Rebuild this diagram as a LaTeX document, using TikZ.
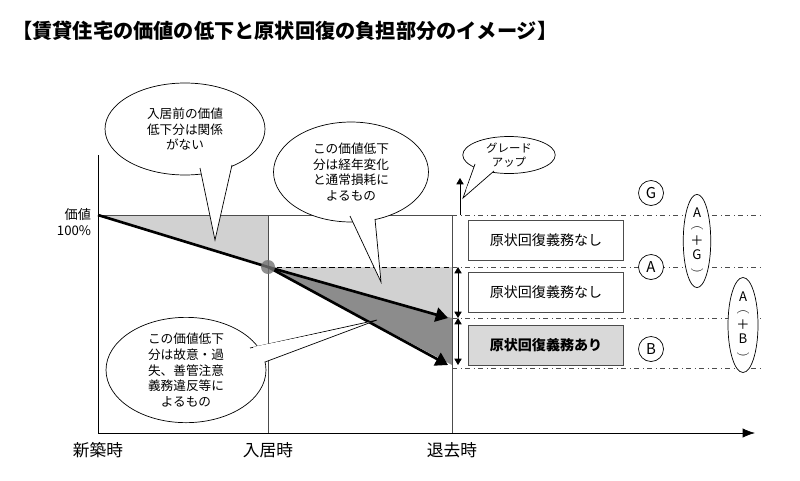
\documentclass[tikz,border=0pt]{standalone}
\usepackage{fontspec}
\setmainfont{Noto Sans CJK JP}
\usetikzlibrary{calc, positioning, arrows.meta, shapes.geometric}
\tikzset{
    bubble/.style={ellipse, draw=black, fill=white, align=center, font=\fontsize{7.2}{9}\selectfont, inner sep=0pt},
    duty/.style={rectangle, draw=black!70, fill=white, align=center, minimum width=3.1cm, minimum height=0.8cm, font=\fontsize{8}{10}\selectfont},
    letter/.style={circle, draw=black, fill=white, minimum size=0.5cm, inner sep=0pt, font=\fontsize{8.5}{10}\selectfont},
    sum/.style={ellipse, draw=black, fill=white, align=center, inner sep=0pt, font=\fontsize{7.5}{8}\selectfont},
    level/.style={black!70, dash dot, thin},
    arrow/.style={-Triangle, line width=1.5pt},
    tick/.style={font=\fontsize{9.5}{11}\selectfont}
}
\begin{document}
\begin{tikzpicture}[x=0.02cm, y=-0.02cm]
    \useasboundingbox (0,0) rectangle (800,480);
    \node[anchor=west, font=\bfseries\fontsize{11.5}{13}\selectfont] (title) at (6,31) {【賃貸住宅の価値の低下と原状回復の負担部分のイメージ】};

    % Shaded areas
    \fill[black!18] (98,215) -- (268,215) -- (268,267) -- cycle;
    \fill[black!18] (268,267) -- (452,267) -- (452,318) -- cycle;
    \fill[black!45] (268,267) -- (452,318) -- (452,365) -- cycle;

    % Frame
    \draw[black!70] (98,215) -- (452,215);
    \draw[black!70] (268,215) -- (268,433);
    \draw[black!70] (452,215) -- (452,433);
    \draw[densely dashed] (268,267) -- (452,267);
    \draw[-{Latex[length=7pt]}] (98,155) -- (98,433) -- (755,433);

    % Levels
    \foreach \y in {215,267,318,368}
        \draw[level] (452,\y) -- (760,\y);

    % Value lines
    \coordinate (new) at (98,215);
    \coordinate (movein) at (268,267);
    \coordinate (endA) at (448,318);
    \coordinate (endB) at (448,365);
    \draw[line width=1.5pt] (new) -- (movein);
    \draw[arrow] (movein) -- (endA);
    \draw[arrow] (movein) -- (endB);
    \fill[black!55, opacity=0.8] (movein) circle (7);

    % Arrows at move-out
    \coordinate (up0) at (460,215);
    \coordinate (up1) at (460,178);
    \draw[-Triangle] (up0) -- (up1);
    \coordinate (dA) at (458,267);
    \coordinate (dB) at (458,318);
    \coordinate (dC) at (458,365);
    \draw[Triangle-Triangle] (dA) -- (dB);
    \draw[Triangle-Triangle] (dB) -- (dC);

    % Boxes
    \node[duty] (none1) at (546,240) {原状回復義務なし};
    \node[duty] (none2) at (546,292) {原状回復義務なし};
    \node[duty, fill=black!15, font=\bfseries\fontsize{8}{10}\selectfont] (must) at (546,345) {原状回復義務あり};
    \node[letter] (G) at (651,193) {G};
    \node[letter] (A) at (651,267) {A};
    \node[letter] (B) at (651,349) {B};
    \node[sum, minimum width=0.55cm, minimum height=1.75cm] (AG) at (697,241) {A\\$\frown$\\＋\\G\\$\smile$};
    \node[sum, minimum width=0.6cm, minimum height=1.9cm] (AB) at (743,325) {A\\$\frown$\\＋\\B\\$\smile$};

    % Callouts
    \node[bubble, minimum width=3.2cm, minimum height=1.84cm] (pre) at (185,129) {入居前の価値\\低下分は関係\\がない};
    \draw[fill=white] (200,168) -- (215,240) -- (232,165);
    \node[bubble, minimum width=3.1cm, minimum height=2cm] (wear) at (351,172) {この価値低下\\分は経年変化\\と通常損耗に\\よるもの};
    \draw[fill=white] (350,216) -- (381,282) -- (375,219);
    \node[bubble, minimum width=3.2cm, minimum height=2cm] (fault) at (186,370) {この価値低下\\分は故意・過\\失、善管注意\\義務違反等に\\よるもの};
    \draw[fill=white] (250,348) -- (377,320) -- (265,362);
    \node[bubble, minimum width=1.85cm, minimum height=0.74cm, font=\fontsize{6.5}{8}\selectfont] (grade) at (509,155) {グレード\\アップ};
    \draw[fill=white] (475,164) -- (463,198) -- (494,171);
    % cover the seams
    \fill[white] (202,166) -- (215,232) -- (230,163) -- cycle;
    \fill[white] (353,216) -- (379,274) -- (373,216) -- cycle;
    \fill[white] (253,347) -- (360,325) -- (264,359) -- cycle;
    \fill[white] (477,163) -- (466,190) -- (492,169) -- cycle;

    % Axis labels
    \node[align=right, font=\fontsize{7.5}{9}\selectfont] (v100) at (74,222) {価値\\100\%};
    \node[tick] (t0) at (98,450) {新築時};
    \node[tick] (t1) at (268,450) {入居時};
    \node[tick] (t2) at (452,450) {退去時};
\end{tikzpicture}
\end{document}
